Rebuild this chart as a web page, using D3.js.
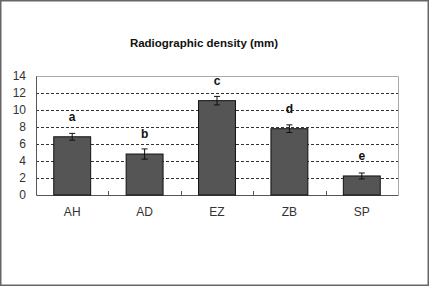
<!DOCTYPE html>
<html>
<head>
<meta charset="utf-8">
<script src="https://cdn.jsdelivr.net/npm/d3@7"></script>
<style>
  body { margin: 0; background: #fff; }
  svg { display: block; font-family: Arial, "Liberation Sans", sans-serif; }
</style>
</head>
<body>
<div id="chart"></div>
<script>
// data
var categories = ["AH", "AD", "EZ", "ZB", "SP"];
var values = [6.85, 4.82, 11.1, 7.8, 2.24];
var errors = [0.4, 0.6, 0.5, 0.45, 0.35];
var letters = ["a", "b", "c", "d", "e"];
var yTicks = [0, 2, 4, 6, 8, 10, 12, 14];

var W = 429, H = 286;
var margin = { top: 76, left: 36, right: 31, bottom: 91 },
    width = W - margin.left - margin.right,
    height = H - margin.top - margin.bottom;

var root = d3.select("#chart").append("svg")
    .attr("width", W)
    .attr("height", H);

// outer frame
root.append("rect")
  .attr("x", 0.75).attr("y", 0.75)
  .attr("width", W - 1.5).attr("height", H - 1.5)
  .attr("fill", "none")
  .attr("stroke", "#666")
  .attr("stroke-width", 1.5);

// title
root.append("text")
  .attr("x", 204).attr("y", 47)
  .attr("text-anchor", "middle")
  .attr("font-size", 11.5)
  .attr("font-weight", "bold")
  .attr("fill", "#111")
  .text("Radiographic density (mm)");

var svg = root.append("g")
  .attr("transform", "translate(" + margin.left + "," + margin.top + ")");

//scales
var x = d3.scaleBand()
  .domain(categories)
  .range([0, width])
  .paddingInner(0.49)
  .paddingOuter(0.245);

var xCat = d3.scaleBand()
  .domain(categories)
  .range([0, width]);

var y = d3.scaleLinear()
  .domain([0, 14])
  .range([height, 0]);

// plot frame (top / right)
svg.append("path")
  .attr("d", "M0,0.5H" + (width + 0.5) + "V" + height)
  .attr("fill", "none")
  .attr("stroke", "#aaa");

// gridlines
svg.selectAll(".grid")
  .data(yTicks.filter(function (d) { return d > 0 && d < 14; }))
  .enter().append("line")
  .attr("class", "grid")
  .attr("x1", 0).attr("x2", width)
  .attr("y1", function (d) { return Math.round(y(d)) + 0.5; })
  .attr("y2", function (d) { return Math.round(y(d)) + 0.5; })
  .attr("stroke", "#333")
  .attr("stroke-dasharray", "3,2");

// y axis
var yAxis = d3.axisLeft(y).tickValues(yTicks).tickSize(0).tickPadding(10);
svg.append("g")
  .call(yAxis)
  .call(function (g) {
    g.select(".domain").attr("stroke", "#555");
    g.selectAll("text").attr("font-size", 12).attr("fill", "#333")
      .attr("font-family", "Arial, 'Liberation Sans', sans-serif");
  });

// x axis
var xAxis = d3.axisBottom(xCat).tickSize(0).tickPadding(12);
svg.append("g")
  .attr("transform", "translate(0," + height + ")")
  .call(xAxis)
  .call(function (g) {
    g.select(".domain").attr("stroke", "#555");
    g.selectAll("text").attr("font-size", 12).attr("fill", "#333")
      .attr("font-family", "Arial, 'Liberation Sans', sans-serif");
  });

// category separator ticks (inside)
svg.selectAll(".sep")
  .data(categories.slice(1))
  .enter().append("line")
  .attr("class", "sep")
  .attr("x1", function (d) { return Math.round(xCat(d)) + 0.5; })
  .attr("x2", function (d) { return Math.round(xCat(d)) + 0.5; })
  .attr("y1", height).attr("y2", height - 4)
  .attr("stroke", "#555");

// bars
svg.selectAll(".bar")
  .data(values)
  .enter().append("rect")
  .attr("class", "bar")
  .attr("x", function (d, i) { return x(categories[i]); })
  .attr("y", function (d) { return y(d); })
  .attr("width", x.bandwidth())
  .attr("height", function (d) { return height - y(d); })
  .attr("fill", "#555")
  .attr("stroke", "#111")
  .attr("stroke-width", 1);

// error bars
var eb = svg.selectAll(".err")
  .data(values)
  .enter().append("g")
  .attr("class", "err")
  .attr("transform", function (d, i) {
    return "translate(" + (x(categories[i]) + x.bandwidth() / 2) + ",0)";
  });

eb.append("line")
  .attr("y1", function (d, i) { return y(d + errors[i]); })
  .attr("y2", function (d, i) { return y(d - errors[i]); })
  .attr("stroke", "#111");
eb.append("line")
  .attr("x1", -3).attr("x2", 3)
  .attr("y1", function (d, i) { return y(d + errors[i]); })
  .attr("y2", function (d, i) { return y(d + errors[i]); })
  .attr("stroke", "#111");
eb.append("line")
  .attr("x1", -3).attr("x2", 3)
  .attr("y1", function (d, i) { return y(d - errors[i]); })
  .attr("y2", function (d, i) { return y(d - errors[i]); })
  .attr("stroke", "#111");

// significance letters
svg.selectAll(".letter")
  .data(values)
  .enter().append("text")
  .attr("class", "letter")
  .attr("x", function (d, i) { return x(categories[i]) + x.bandwidth() / 2; })
  .attr("y", function (d) { return y(d) - 16; })
  .attr("text-anchor", "middle")
  .attr("font-size", 12)
  .attr("font-weight", "bold")
  .attr("fill", "#111")
  .text(function (d, i) { return letters[i]; });
</script>
</body>
</html>
